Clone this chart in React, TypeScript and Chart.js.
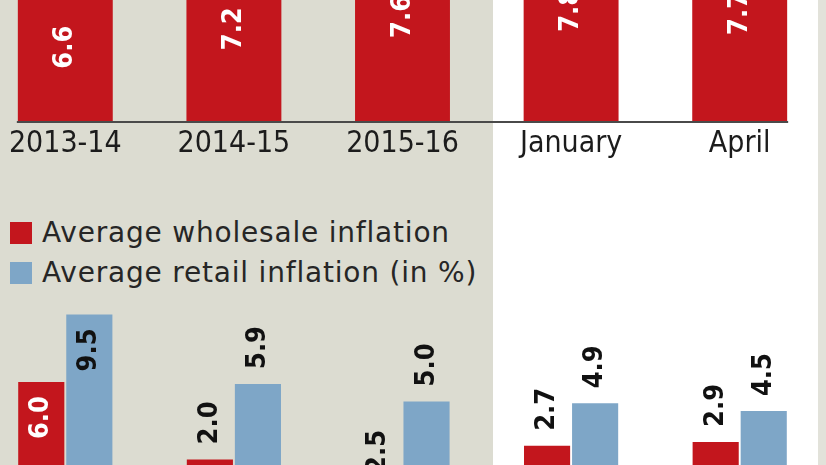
import React, { useEffect, useRef } from "react";
import { Chart, registerables } from "chart.js";

Chart.register(...registerables);

// ---- data ----
const categories = ["2013-14", "2014-15", "2015-16", "January", "April"];
const growthValues = [6.6, 7.2, 7.6, 7.8, 7.7];
const wholesaleValues = [6.0, 2.0, -2.5, 2.7, 2.9];
const retailValues = [9.5, 5.9, 5.0, 4.9, 4.5];
const seriesNames = ["Average wholesale inflation", "Average retail inflation (in %)"];

// ---- styles ----
const RED = "#c3161d";
const BLUE = "#7ea6c7";
const BEIGE = "#dcdcd1";
const STRIP = "#e2e2da";
const TEXT = "#1c1c1c";
const LABEL_FONT = '"DejaVu Sans Condensed", "DejaVu Sans", sans-serif';
const AXIS_FONT = '"Liberation Sans Narrow", "DejaVu Sans Condensed", sans-serif';
const LEGEND_FONT = '"DejaVu Sans", sans-serif';
const TOP_PX_PER_UNIT = 31;
const TOP_PLOT_HEIGHT = 122;

const topLabelsPlugin = {
  id: "topLabels",
  afterDatasetsDraw(chart: any) {
    const ctx = chart.ctx;
    const meta = chart.getDatasetMeta(0);
    const data = chart.data.datasets[0].data as number[];
    ctx.save();
    ctx.fillStyle = "#ffffff";
    ctx.font = `bold 27px ${LABEL_FONT}`;
    ctx.textBaseline = "middle";
    ctx.textAlign = "right";
    meta.data.forEach((bar: any, i: number) => {
      ctx.save();
      ctx.translate(bar.x, bar.y + 107.6);
      ctx.rotate(-Math.PI / 2);
      ctx.fillText(Number(data[i]).toFixed(1), 0, 0);
      ctx.restore();
    });
    const first = meta.data[0];
    const last = meta.data[meta.data.length - 1];
    const y = chart.chartArea.bottom + 1;
    ctx.strokeStyle = "#4a4a4a";
    ctx.lineWidth = 2;
    ctx.beginPath();
    ctx.moveTo(first.x - first.width / 2 - 1, y);
    ctx.lineTo(last.x + last.width / 2 + 1, y);
    ctx.stroke();
    ctx.restore();
  },
};

const bottomLabelsPlugin = {
  id: "bottomLabels",
  afterDatasetsDraw(chart: any) {
    const ctx = chart.ctx;
    ctx.save();
    ctx.font = `bold 27px ${LABEL_FONT}`;
    ctx.textBaseline = "middle";
    chart.data.datasets.forEach((ds: any, di: number) => {
      const meta = chart.getDatasetMeta(di);
      meta.data.forEach((bar: any, i: number) => {
        const v = Number(ds.data[i]);
        const top = Math.min(bar.y, bar.base);
        const inside = v >= 6;
        ctx.save();
        ctx.translate(bar.x, inside ? top + 14 : top - 15);
        ctx.rotate(-Math.PI / 2);
        ctx.textAlign = inside ? "right" : "left";
        ctx.fillStyle = inside && di === 0 ? "#ffffff" : "#111111";
        ctx.fillText(v.toFixed(1), 0, 0);
        ctx.restore();
      });
    });
    ctx.restore();
  },
};

export default function App() {
  const topRef = useRef<HTMLCanvasElement>(null);
  const bottomRef = useRef<HTMLCanvasElement>(null);

  useEffect(() => {
    document.body.style.margin = "0";
    const top = new Chart(topRef.current!, {
      type: "bar",
      data: {
        labels: categories,
        datasets: [
          {
            label: "Growth",
            data: growthValues,
            backgroundColor: RED,
            borderWidth: 0,
            barPercentage: 0.563,
            categoryPercentage: 1,
          },
        ],
      },
      options: {
        animation: false,
        responsive: false,
        maintainAspectRatio: false,
        layout: { padding: 0 },
        plugins: { legend: { display: false }, tooltip: { enabled: false } },
        scales: {
          x: {
            grid: { display: false, drawTicks: false },
            border: { display: false },
            ticks: {
              color: TEXT,
              font: { family: AXIS_FONT, size: 30 },
              padding: 5,
              maxRotation: 0,
              autoSkip: false,
            },
          },
          y: { display: false, min: 0, max: TOP_PLOT_HEIGHT / TOP_PX_PER_UNIT },
        },
      },
      plugins: [topLabelsPlugin],
    });

    const bottom = new Chart(bottomRef.current!, {
      type: "bar",
      data: {
        labels: categories,
        datasets: [
          {
            label: seriesNames[0],
            data: wholesaleValues,
            backgroundColor: RED,
            borderWidth: 0,
            barPercentage: 0.96,
            categoryPercentage: 0.57,
          },
          {
            label: seriesNames[1],
            data: retailValues,
            backgroundColor: BLUE,
            borderWidth: 0,
            barPercentage: 0.96,
            categoryPercentage: 0.57,
          },
        ],
      },
      options: {
        animation: false,
        responsive: false,
        maintainAspectRatio: false,
        layout: { padding: 0 },
        plugins: { legend: { display: false }, tooltip: { enabled: false } },
        scales: {
          x: { display: false },
          y: { display: false, min: -3, max: 10.3 },
        },
      },
      plugins: [bottomLabelsPlugin],
    });

    return () => {
      top.destroy();
      bottom.destroy();
    };
  }, []);

  const legendColors = [RED, BLUE];

  return (
    <div
      style={{
        position: "fixed",
        left: 0,
        top: 0,
        width: 826,
        height: 465,
        overflow: "hidden",
        background: `linear-gradient(to right, ${BEIGE} 0px, ${BEIGE} 493px, #ffffff 493px, #ffffff 818px, ${STRIP} 818px)`,
      }}
    >
      <canvas
        ref={topRef}
        width={843}
        height={167}
        style={{ position: "absolute", left: -19, top: 0, width: 843, height: 167 }}
      />
      <div style={{ position: "absolute", left: 10, top: 221 }}>
        {seriesNames.map((name, i) => (
          <div
            key={name}
            style={{ display: "flex", alignItems: "center", height: 24, marginBottom: 16 }}
          >
            <div style={{ width: 22, height: 22, background: legendColors[i] }} />
            <span
              style={{
                marginLeft: 10,
                font: `28px ${LEGEND_FONT}`,
                letterSpacing: "0.8px",
                color: "#262626",
                lineHeight: "24px",
                whiteSpace: "nowrap",
              }}
            >
              {name}
            </span>
          </div>
        ))}
      </div>
      <canvas
        ref={bottomRef}
        width={843}
        height={257}
        style={{ position: "absolute", left: -19, top: 299, width: 843, height: 257 }}
      />
    </div>
  );
}
